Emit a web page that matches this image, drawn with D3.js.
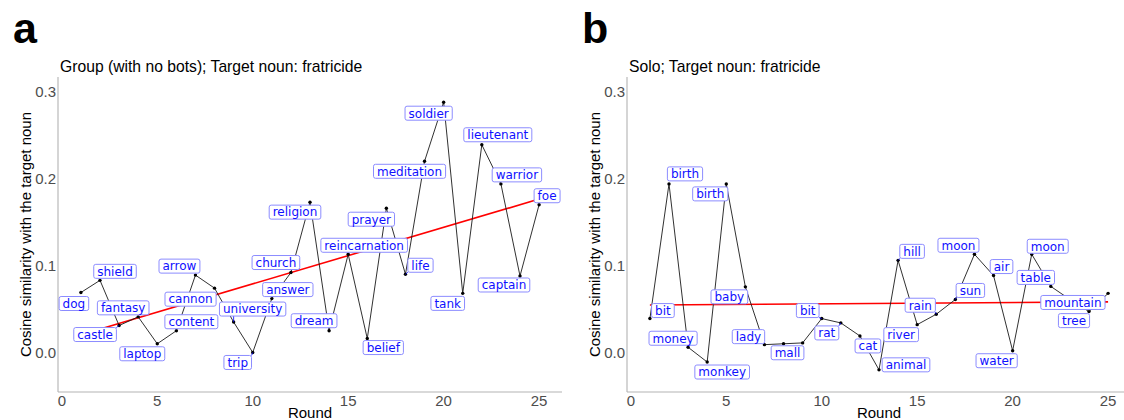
<!DOCTYPE html>
<html lang="en">
<head>
    <meta charset="UTF-8">
    <title>Cosine similarity with the target noun by round</title>
    <script src="https://d3js.org/d3.v7.min.js"></script>
    <style>
        body { margin: 0; background: #fff; }
        svg { display: block; }
        .tick-label { font: 15px "Liberation Sans", Arial, sans-serif; fill: #4d4d4d; }
        .axis-title { font: 15px "Liberation Sans", Arial, sans-serif; fill: #000; }
        .panel-title { font: 15.7px "Liberation Sans", Arial, sans-serif; fill: #000; }
        .panel-letter { font: bold 43px "Liberation Sans", Arial, sans-serif; fill: #000; }
        .word { font: 12px "DejaVu Sans", sans-serif; fill: #1010ff; }
    </style>
</head>
<body>
<div id="chart"></div>

<script>
const width = 1124;
const height = 420;

// data
const rounds = [1, 2, 3, 4, 5, 6, 7, 8, 9, 10, 11, 12, 13, 14, 15, 16, 17, 18, 19, 20, 21, 22, 23, 24, 25];

const groupWords = ["dog", "shield", "castle", "fantasy", "laptop", "content", "arrow", "cannon",
    "university", "trip", "answer", "church", "religion", "dream", "reincarnation", "belief",
    "prayer", "life", "meditation", "soldier", "tank", "lieutenant", "warrior", "captain", "foe"];
const groupSim = [0.069, 0.083, 0.031, 0.041, 0.010, 0.025, 0.089, 0.074, 0.035, 0.000,
    0.062, 0.092, 0.173, 0.025, 0.113, 0.016, 0.166, 0.090, 0.220, 0.288,
    0.068, 0.239, 0.194, 0.088, 0.170];

// null = label dropped in the reference
const soloWords = ["bit", "birth", "money", "monkey", "birth", "baby", "lady", "mall", null,
    "bit", "rat", "cat", "animal", "hill", "river", "rain", "sun", "moon", "air", "water",
    "moon", "table", "mountain", "tree", null];
const soloSim = [0.039, 0.194, 0.006, -0.011, 0.194, 0.0755, 0.009, 0.010, 0.011, 0.039,
    0.034, 0.019, -0.020, 0.106, 0.032, 0.044, 0.061, 0.113, 0.0885, 0.002,
    0.113, 0.076, 0.061, 0.047, 0.068];

const xTicks = [0, 5, 10, 15, 20, 25];
const yTicks = [0, 0.1, 0.2, 0.3];

// label placement (pixel offset of label centre from its point), like ggrepel did it
const groupNudge = [[-7, 11], [15, -9], [-24, 9], [-15, -9], [-15, 10], [15, -9], [-16, -9], [-24, 11],
    [19, -13], [-15, 10], [16, -9], [-15, -10], [-15, 10], [-15, -10], [16, -9], [16, 9],
    [-15, 11], [15, -9], [-15, 10], [-15, 11], [-15, 10], [16, -10], [16, -9], [-16, 9], [8, -9]];
const soloNudge = [[13, -8], [16, -10], [-15, -9], [15, 10], [-16, 10], [-16, 10], [-16, -8], [4, 9], null,
    [-14, -8], [-14, 10], [8, 10], [27, -5], [14, -9], [-16, 10], [-16, -9], [15, -9], [-16, -9],
    [8, -9], [-16, 10], [16, -8], [-15, -9], [3, 3], [-15, 9], null];

const svg = d3.select("#chart")
    .append("svg")
    .attr("width", width)
    .attr("height", height);

function drawPanel(opt) {
    const x = d3.scaleLinear().domain([-0.2, 26.2]).range([opt.left, opt.left + 504]);
    const y = d3.scaleLinear().domain([-0.0455, 0.317]).range([392, 77]);
    const g = svg.append("g");

    g.append("text").attr("class", "panel-letter")
        .attr("x", opt.left - 45).attr("y", 43).text(opt.letter);
    g.append("text").attr("class", "panel-title")
        .attr("x", opt.left + 2).attr("y", 72).text(opt.title);

    // axes lines, no ticks
    g.append("line").attr("x1", opt.left).attr("x2", opt.left).attr("y1", 77).attr("y2", 392)
        .attr("stroke", "#b3b3b3").attr("stroke-width", 1.1);
    g.append("line").attr("x1", opt.left).attr("x2", opt.left + 504).attr("y1", 392).attr("y2", 392)
        .attr("stroke", "#b3b3b3").attr("stroke-width", 1.1);

    g.selectAll(".xt").data(xTicks).join("text")
        .attr("class", "tick-label")
        .attr("x", d => x(d)).attr("y", 406)
        .attr("text-anchor", "middle")
        .text(d => d);
    g.selectAll(".yt").data(yTicks).join("text")
        .attr("class", "tick-label")
        .attr("x", opt.left - 2).attr("y", d => y(d) + 5.4)
        .attr("text-anchor", "end")
        .text(d3.format(".1f"));

    g.append("text").attr("class", "axis-title")
        .attr("x", (x.range()[0] + x.range()[1]) / 2).attr("y", 418)
        .attr("text-anchor", "middle").text("Round");
    g.append("text").attr("class", "axis-title")
        .attr("transform", `translate(${opt.left - 27},${(77 + 392) / 2}) rotate(-90)`)
        .attr("text-anchor", "middle").text("Cosine similarity with the target noun");

    const pts = rounds.map((r, i) => ({ r, v: opt.values[i], word: opt.words[i], nudge: opt.nudge[i] }));

    // least squares fit (geom_smooth, method = "lm")
    const mx = d3.mean(pts, d => d.r), my = d3.mean(pts, d => d.v);
    const slope = d3.sum(pts, d => (d.r - mx) * (d.v - my)) / d3.sum(pts, d => (d.r - mx) ** 2);
    const fit = [rounds[0], rounds[rounds.length - 1]].map(r => ({ r, v: my + slope * (r - mx) }));
    g.append("path")
        .datum(fit)
        .attr("d", d3.line().x(d => x(d.r)).y(d => y(d.v)))
        .attr("stroke", "#ff0000").attr("stroke-width", 1.6).attr("fill", "none");

    g.append("path")
        .datum(pts)
        .attr("d", d3.line().x(d => x(d.r)).y(d => y(d.v)))
        .attr("stroke", "#1a1a1a").attr("stroke-width", 0.9).attr("fill", "none");

    g.selectAll(".pt").data(pts).join("circle")
        .attr("cx", d => x(d.r)).attr("cy", d => y(d.v)).attr("r", 1.7)
        .attr("fill", "#000");

    // word labels
    const labelled = pts.filter(d => d.word);
    const lab = g.selectAll(".lab").data(labelled).join("g");
    lab.each(function (d) {
        const sel = d3.select(this);
        const px = x(d.r), py = y(d.v);
        const cx = px + d.nudge[0], cy = py + d.nudge[1];
        const seg = sel.append("line");
        const rect = sel.append("rect");
        const t = sel.append("text").attr("class", "word")
            .attr("x", cx).attr("y", cy + 4.3)
            .attr("text-anchor", "middle").text(d.word);
        const w = t.node().getComputedTextLength() + 7;
        const h = 14;
        const x0 = cx - w / 2, x1 = cx + w / 2, y0 = cy - h / 2, y1 = cy + h / 2;
        rect.attr("x", x0).attr("y", y0).attr("width", w).attr("height", h)
            .attr("rx", 2).attr("fill", "#fff")
            .attr("stroke", "#8c8cff").attr("stroke-width", 1);
        // segment to the point when the label sits off to the side
        const nx = Math.max(x0, Math.min(px, x1)), ny = Math.max(y0, Math.min(py, y1));
        const dist = Math.hypot(px - nx, py - ny);
        const diag = (px < x0 || px > x1) && (py < y0 || py > y1);
        if ((diag && dist > 2) || dist > 5) {
            seg.attr("x1", px).attr("y1", py).attr("x2", nx).attr("y2", ny)
                .attr("stroke", "#0000ff").attr("stroke-width", 0.8);
        }
    });
}

drawPanel({ letter: "a", title: "Group (with no bots); Target noun: fratricide",
    left: 58, values: groupSim, words: groupWords, nudge: groupNudge });
drawPanel({ letter: "b", title: "Solo; Target noun: fratricide",
    left: 627, values: soloSim, words: soloWords, nudge: soloNudge });
</script>
</body>
</html>
